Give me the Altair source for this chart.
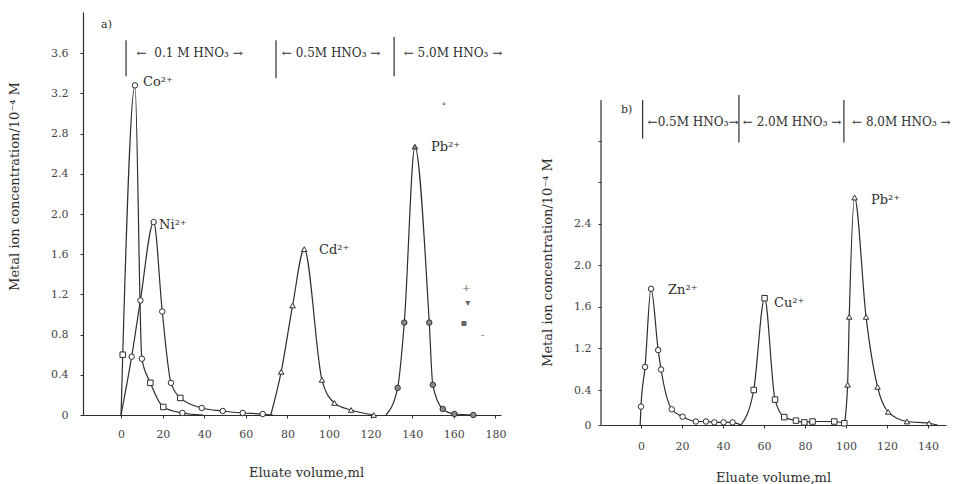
import altair as alt
import pandas as pd

FONT = "DejaVu Serif"
INK = "#2e2e2e"
GREY = "#555555"

# ---------------- panel a) : data ----------------
co_x = [0.0, 0.8, 6.7, 10.0, 14.1, 20.3, 29.5, 39.5]
co_y = [0.0, 0.60, 3.28, 0.56, 0.32, 0.08, 0.02, 0.0]
co_m = ["", "square", "circle", "circle", "square", "square", "circle", ""]

ni_x = [0.0, 5.1, 9.3, 15.7, 19.8, 24.0, 28.5, 38.8, 48.9, 58.5, 68.1, 73.0]
ni_y = [0.0, 0.58, 1.14, 1.92, 1.03, 0.32, 0.17, 0.07, 0.04, 0.02, 0.01, 0.0]
ni_m = ["", "circle", "circle", "circle", "circle", "circle", "square", "circle",
        "circle", "circle", "circle", ""]

cd_x = [72.0, 77.0, 82.5, 88.1, 96.6, 102.6, 110.6, 121.5]
cd_y = [0.0, 0.43, 1.09, 1.65, 0.35, 0.12, 0.05, 0.0]
cd_m = ["", "triangle-up", "triangle-up", "triangle-up", "triangle-up",
        "triangle-up", "triangle-up", "triangle-up"]

pba_x = [127.4, 133.0, 136.2, 141.3, 148.2, 149.9, 154.7, 160.3, 169.4]
pba_y = [0.0, 0.27, 0.92, 2.67, 0.92, 0.30, 0.06, 0.01, 0.0]
pba_m = ["", "circle", "circle", "triangle-up", "circle", "circle", "circle",
         "circle", "circle"]

a_ions = ["Co²⁺", "Ni²⁺", "Cd²⁺", "Pb²⁺"]
a_ion_x = [10.6, 18.3, 95.2, 149.0]
a_ion_y = [3.31, 1.89, 1.64, 2.67]

a_eluent = ["←\u00a0\u00a00.1 M HNO₃\u00a0→", "← 0.5M HNO₃ →", "← 5.0M HNO₃ →"]
a_eluent_x = [33.0, 101.0, 159.6]
a_eluent_y = [3.60, 3.60, 3.60]
a_bar_x = [2.4, 74.5, 131.3]
a_bar_lo = [3.37, 3.35, 3.37]
a_bar_hi = [3.73, 3.73, 3.76]

stray_txt = ["∘", "+", "▾", "▪", "-"]
stray_x = [155.3, 165.9, 166.7, 164.9, 173.9]
stray_y = [3.09, 1.26, 1.11, 0.92, 0.80]

a_xticks = [0, 20, 40, 60, 80, 100, 120, 140, 160, 180]
a_yticks = [0, 0.4, 0.8, 1.2, 1.6, 2.0, 2.4, 2.8, 3.2, 3.6]

# ---------------- panel b) ----------------
zn_x = [-0.4, 0.0, 2.0, 4.9, 8.4, 9.8, 15.0, 20.3, 26.8, 31.7, 35.8, 40.3, 44.7, 48.8]
zn_y = [0.0, 0.21, 0.84, 1.77, 1.16, 0.79, 0.18, 0.095, 0.04, 0.04, 0.03, 0.03, 0.03, 0.0]
zn_m = ["", "circle", "circle", "circle", "circle", "circle", "circle", "circle",
        "circle", "circle", "circle", "circle", "circle", ""]

cu_x = [48.8, 55.0, 60.3, 65.4, 69.9, 75.6, 79.7, 83.7, 94.3, 99.2]
cu_y = [0.0, 0.40, 1.68, 0.29, 0.09, 0.05, 0.03, 0.04, 0.04, 0.02]
cu_m = ["", "square", "square", "square", "square", "square", "square", "square",
        "square", "square"]

pbb_x = [99.2, 100.8, 101.6, 104.2, 109.8, 115.4, 120.6, 129.8, 140.6, 144.7]
pbb_y = [0.0, 0.50, 1.50, 2.65, 1.50, 0.46, 0.15, 0.04, 0.02, 0.0]
pbb_m = ["", "triangle-up", "triangle-up", "triangle-up", "triangle-up",
         "triangle-up", "triangle-up", "triangle-up", "triangle-up", ""]

b_ions = ["Zn²⁺", "Cu²⁺", "Pb²⁺"]
b_ion_x = [13.2, 64.9, 112.2]
b_ion_y = [1.76, 1.63, 2.63]

b_eluent = ["←0.5M HNO₃→", "← 2.0M HNO₃ →", "← 8.0M HNO₃ →"]
b_eluent_x = [25.4, 73.7, 127.0]
b_eluent_y = [3.38, 3.38, 3.38]
b_bar_x = [0.8, 47.8, 99.0]
b_bar_lo = [3.22, 3.18, 3.18]
b_bar_hi = [3.59, 3.64, 3.59]

b_xticks = [0, 20, 40, 60, 80, 100, 120, 140]
b_yticks = [0, 0.4, 1.2, 1.6, 2.0, 2.4, 2.8, 3.2]
b_axis_extent = [0.0, 3.59]

SHAPES = ["circle", "square", "triangle-up"]


def series(ion, xs, ys, ms, fill):
    return pd.DataFrame({"ion": ion, "x": xs, "y": ys, "mark": ms, "fill": fill})


df_a = pd.concat([
    series("Co", co_x, co_y, co_m, "white"),
    series("Ni", ni_x, ni_y, ni_m, "white"),
    series("Cd", cd_x, cd_y, cd_m, "white"),
    series("Pb", pba_x, pba_y, pba_m, "#8c8c8c"),
], ignore_index=True)

df_b = pd.concat([
    series("Zn", zn_x, zn_y, zn_m, "white"),
    series("Cu", cu_x, cu_y, cu_m, "white"),
    series("Pb", pbb_x, pbb_y, pbb_m, "white"),
], ignore_index=True)


def panel(df, xenc, yenc, ions, ion_x, ion_y, elu, elu_x, elu_y, bx, blo, bhi,
          tag, tag_x, tag_y, width, height, extra=None):
    line = alt.Chart(df).mark_line(interpolate="monotone", color=INK, strokeWidth=1.2).encode(
        x=xenc, y=yenc, detail="ion:N")
    pts = alt.Chart(df).transform_filter("datum.mark != ''").mark_point(
        filled=True, stroke=INK, strokeWidth=1, size=30, opacity=1).encode(
        x=xenc, y=yenc,
        shape=alt.Shape("mark:N", scale=alt.Scale(domain=SHAPES, range=SHAPES), legend=None),
        fill=alt.Fill("fill:N", scale=None))
    lab = alt.Chart(pd.DataFrame({"x": ion_x, "y": ion_y, "t": ions})).mark_text(
        align="left", baseline="middle", font=FONT, fontSize=13, color=INK).encode(
        x=xenc, y=yenc, text="t:N")
    hdr = alt.Chart(pd.DataFrame({"x": elu_x, "y": elu_y, "t": elu})).mark_text(
        align="center", baseline="middle", font=FONT, fontSize=12, color=INK).encode(
        x=xenc, y=yenc, text="t:N")
    bars = alt.Chart(pd.DataFrame({"x": bx, "y": blo, "y2": bhi})).mark_rule(
        color=INK, strokeWidth=1.2).encode(x=xenc, y=yenc, y2="y2:Q")
    tg = alt.Chart(pd.DataFrame({"x": [tag_x], "y": [tag_y], "t": [tag]})).mark_text(
        align="left", baseline="middle", font=FONT, fontSize=11, color=INK).encode(
        x=xenc, y=yenc, text="t:N")
    layers = [line, pts, lab, hdr, bars, tg]
    if extra is not None:
        layers += extra
    return alt.layer(*layers).properties(width=width, height=height)


# ---- panel a encodings ----
xa = alt.X("x:Q", scale=alt.Scale(domain=[-18.3, 182.7], nice=False, zero=False),
           axis=alt.Axis(values=a_xticks, title="Eluate volume,ml", tickSize=3,
                         labelPadding=10, titleX=223, titleY=57, titleBaseline="middle",
                         titleAlign="center"))
ya = alt.Y("y:Q", scale=alt.Scale(domain=[0, 4.01], nice=False, zero=False),
           axis=alt.Axis(values=a_yticks, title="Metal ion concentration/10⁻⁴ M",
                         labelExpr="datum.value == 0 ? '0' : format(datum.value, '.1f')",
                         tickSize=3, labelPadding=12, titleAngle=270, titleX=-62,
                         titleY=174, titleAlign="center", titleBaseline="bottom"))

stray = alt.Chart(pd.DataFrame({"x": stray_x, "y": stray_y, "t": stray_txt})).mark_text(
    font=FONT, fontSize=10, color="#666666").encode(x=xa, y=ya, text="t:N")

panel_a = panel(df_a, xa, ya, a_ions, a_ion_x, a_ion_y, a_eluent, a_eluent_x, a_eluent_y,
                a_bar_x, a_bar_lo, a_bar_hi, "a)", -9.6, 3.88, 418, 403, extra=[stray])

# ---- panel b encodings ----
xb = alt.X("x:Q", scale=alt.Scale(domain=[-19.5, 148.8], nice=False, zero=False),
           axis=alt.Axis(values=b_xticks, title="Eluate  volume,ml", tickSize=3,
                         labelPadding=12, titleX=172, titleY=52, titleBaseline="middle",
                         titleAlign="center"))
yb = alt.Y("y:Q", scale=alt.Scale(domain=[0, 0.4, 1.2, 2.8, 4.44],
                                  range=[413, 378, 336, 170, 0], nice=False, zero=False),
           axis=alt.Axis(values=b_yticks, title="Metal ion concentration/10⁻⁴ M",
                         labelExpr="datum.value == 0 ? '0' : (datum.value > 2.5 ? '' : format(datum.value, '.1f'))",
                         tickSize=3, labelPadding=7, domain=False, titleAngle=270,
                         titleX=-47, titleY=250, titleAlign="center", titleBaseline="bottom"))

b_axis = alt.Chart(pd.DataFrame({"y": [b_axis_extent[0]], "y2": [b_axis_extent[1]]})).mark_rule(
    color=INK, strokeWidth=1.2).encode(x=alt.value(0), y=yb, y2="y2:Q")

panel_b = panel(df_b, xb, yb, b_ions, b_ion_x, b_ion_y, b_eluent, b_eluent_x, b_eluent_y,
                b_bar_x, b_bar_lo, b_bar_hi, "b)", -9.8, 3.49, 345, 413, extra=[b_axis])

chart = alt.hconcat(panel_a, panel_b, spacing=100, bounds="flush").properties(
    padding={"left": 0, "top": 4, "right": 0, "bottom": 0},
    background="white",
).configure_view(stroke=None).configure_axis(
    grid=False,
    labelFont=FONT, labelFontSize=11, labelColor="#454545",
    titleFont=FONT, titleFontSize=13, titleFontWeight="normal", titleColor=INK,
    domainColor=INK, tickColor=INK, domainWidth=1.2, tickWidth=1,
)

chart.save("out.html", embed_options={"renderer": "svg", "actions": False})
